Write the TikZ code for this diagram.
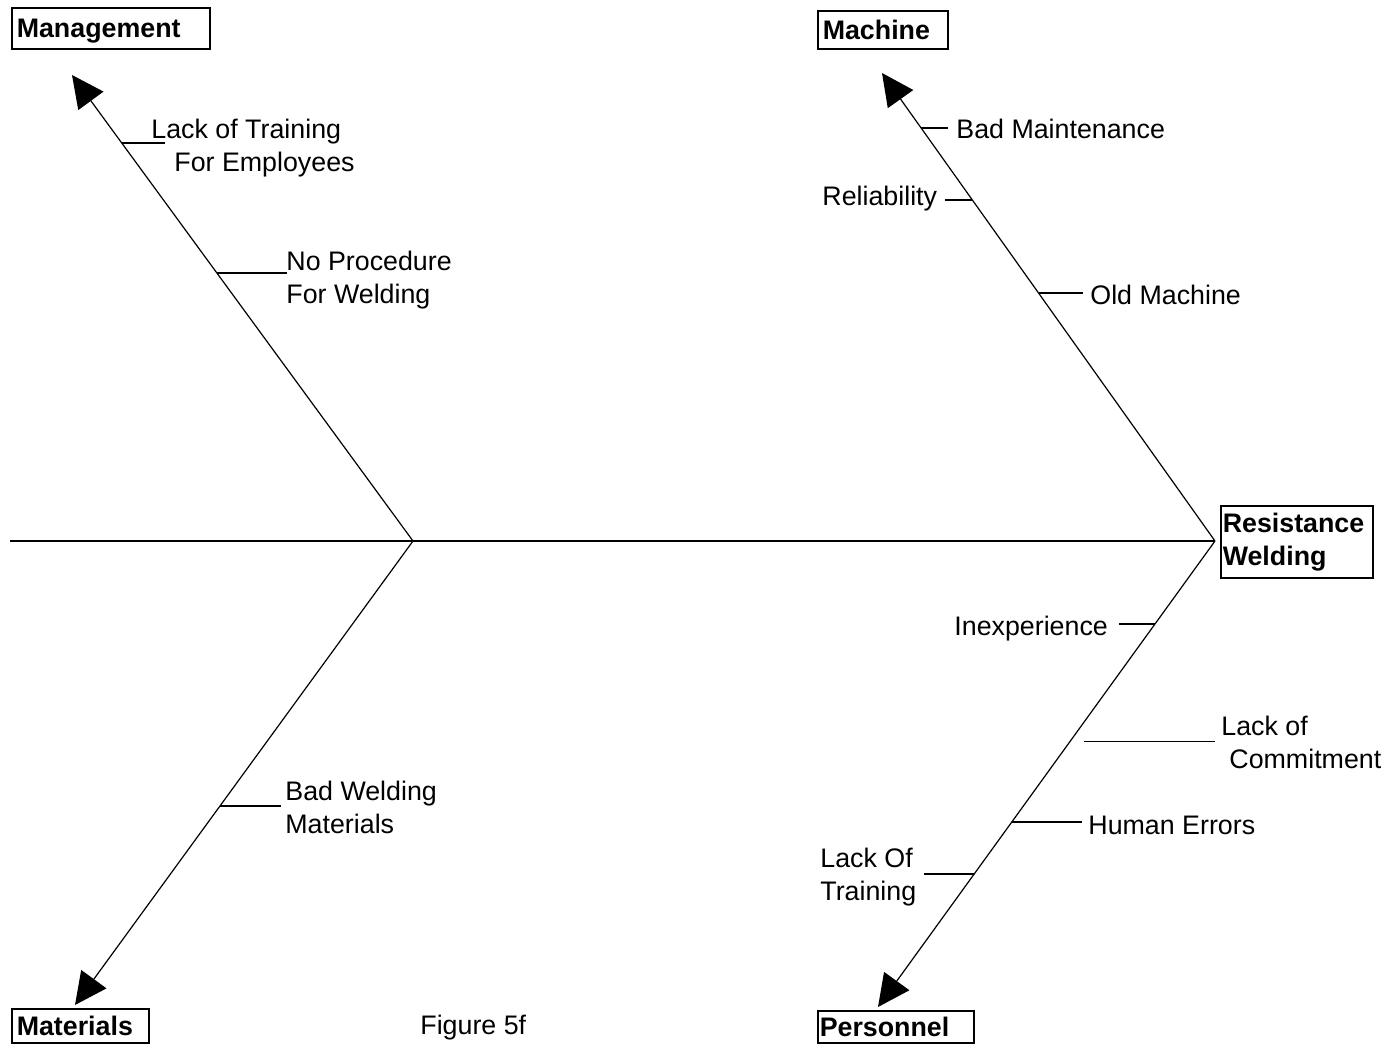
\documentclass[tikz,border=0pt]{standalone}
\usepackage{fontspec}
\setmainfont{Liberation Sans}
\usetikzlibrary{arrows.meta,calc}
\newcommand{\twolines}[2]{\begin{tabular}[t]{@{}l@{}}#1\\#2\end{tabular}}
\begin{document}
\begin{tikzpicture}[x=0.5pt,y=-0.5pt,
  every node/.style={font=\fontsize{13.4}{16.5}\selectfont, inner sep=0pt},
  catbox/.style={draw, line width=0.75pt,
    font=\fontsize{13.4}{16.5}\selectfont\bfseries,
    anchor=north west, align=left, inner xsep=2.5pt, inner ysep=0pt},
  oneline/.style={text height=9.6pt, text depth=0pt},
  spine/.style={line width=1.3pt},
  bone/.style={line width=0.6pt, -{Triangle[length=16pt,width=15.5pt]}},
  tick/.style={line width=0.6pt},
  cause/.style={anchor=base west}]

\useasboundingbox (0,0) rectangle (1389,1046);

% category boxes and the effect box
\node[catbox, oneline, text width=94pt, minimum height=20.5pt] (mgmt) at (11,7) {Management};
\node[catbox, oneline, text width=60pt, minimum height=19pt] (mach) at (817,10) {Machine};
\node[catbox, text width=74pt, minimum height=36pt, inner xsep=1pt] (effect) at (1220,505) {Resistance\\Welding};
\node[catbox, oneline, text width=63.5pt, minimum height=17pt] (matl) at (11,1008) {Materials};
\node[catbox, oneline, text width=76pt, minimum height=16pt, inner xsep=1pt] (pers) at (817,1010) {Personnel};

% spine and main bones
\coordinate (tail) at (10,541);
\coordinate (jl) at (413,541);
\coordinate (jr) at (1215,541);
\coordinate (tipMg) at (72,75);
\coordinate (tipMc) at (882,73);
\coordinate (tipMt) at (75,1005);
\coordinate (tipP) at (878,1007);

\draw[spine] (tail) -- (jr);
\draw[bone] (jl) -- (tipMg);
\draw[bone] (jr) -- (tipMc);
\draw[bone] (jl) -- (tipMt);
\draw[bone] (jr) -- (tipP);

% cause labels
\node[cause] (lt) at (151,138) {\twolines{Lack of Training}{\hspace*{11.5pt}For Employees}};
\node[cause] (np) at (286,270) {\twolines{No Procedure}{For Welding}};
\node[cause] (bm) at (956,138) {Bad Maintenance};
\node[cause] (rel) at (822,205) {Reliability};
\node[cause] (om) at (1090,304) {Old Machine};
\node[cause] (bw) at (285,800) {\twolines{Bad Welding}{Materials}};
\node[cause] (inex) at (954,635) {Inexperience};
\node[cause] (lc) at (1221,735) {\twolines{Lack of}{\hspace*{4pt}Commitment}};
\node[cause] (he) at (1088,834) {Human Errors};
\node[cause] (lot) at (820,867) {\twolines{Lack Of}{Training}};

% attachment points on the bones
\coordinate (k1) at ($(jl)!0.854!(tipMg)$);
\coordinate (k2) at ($(jl)!0.575!(tipMg)$);
\coordinate (k3) at ($(jr)!0.8825!(tipMc)$);
\coordinate (k4) at ($(jr)!0.7286!(tipMc)$);
\coordinate (k5) at ($(jr)!0.53!(tipMc)$);
\coordinate (k6) at ($(jl)!0.571!(tipMt)$);
\coordinate (k7) at ($(jr)!0.178!(tipP)$);
\coordinate (k8) at ($(jr)!0.431!(tipP)$);
\coordinate (k9) at ($(jr)!0.603!(tipP)$);
\coordinate (k10) at ($(jr)!0.7146!(tipP)$);

% ticks from the bones to their labels
\draw[tick] (k1) -- ($(k1 -| lt.west)+(14,0)$);
\draw[tick] (k2) -- ($(k2 -| np.west)+(1,0)$);
\draw[tick] (k3) -- ($(k3 -| bm.west)+(-8,0)$);
\draw[tick] (k4) -- ($(k4 -| rel.east)+(8,0)$);
\draw[tick] (k5) -- ($(k5 -| om.west)+(-7,0)$);
\draw[tick] (k6) -- ($(k6 -| bw.west)+(-4,0)$);
\draw[tick] (k7) -- ($(k7 -| inex.east)+(11,0)$);
\draw[tick] ($(k8)+(14,0)$) -- ($(k8 -| lc.west)+(-6,0)$);
\draw[tick] (k9) -- ($(k9 -| he.west)+(-6,0)$);
\draw[tick] (k10) -- ($(k10 -| lot.east)+(7,0)$);

% caption
\node[anchor=base west] (cap) at (420,1034) {Figure 5f};
\end{tikzpicture}
\end{document}
